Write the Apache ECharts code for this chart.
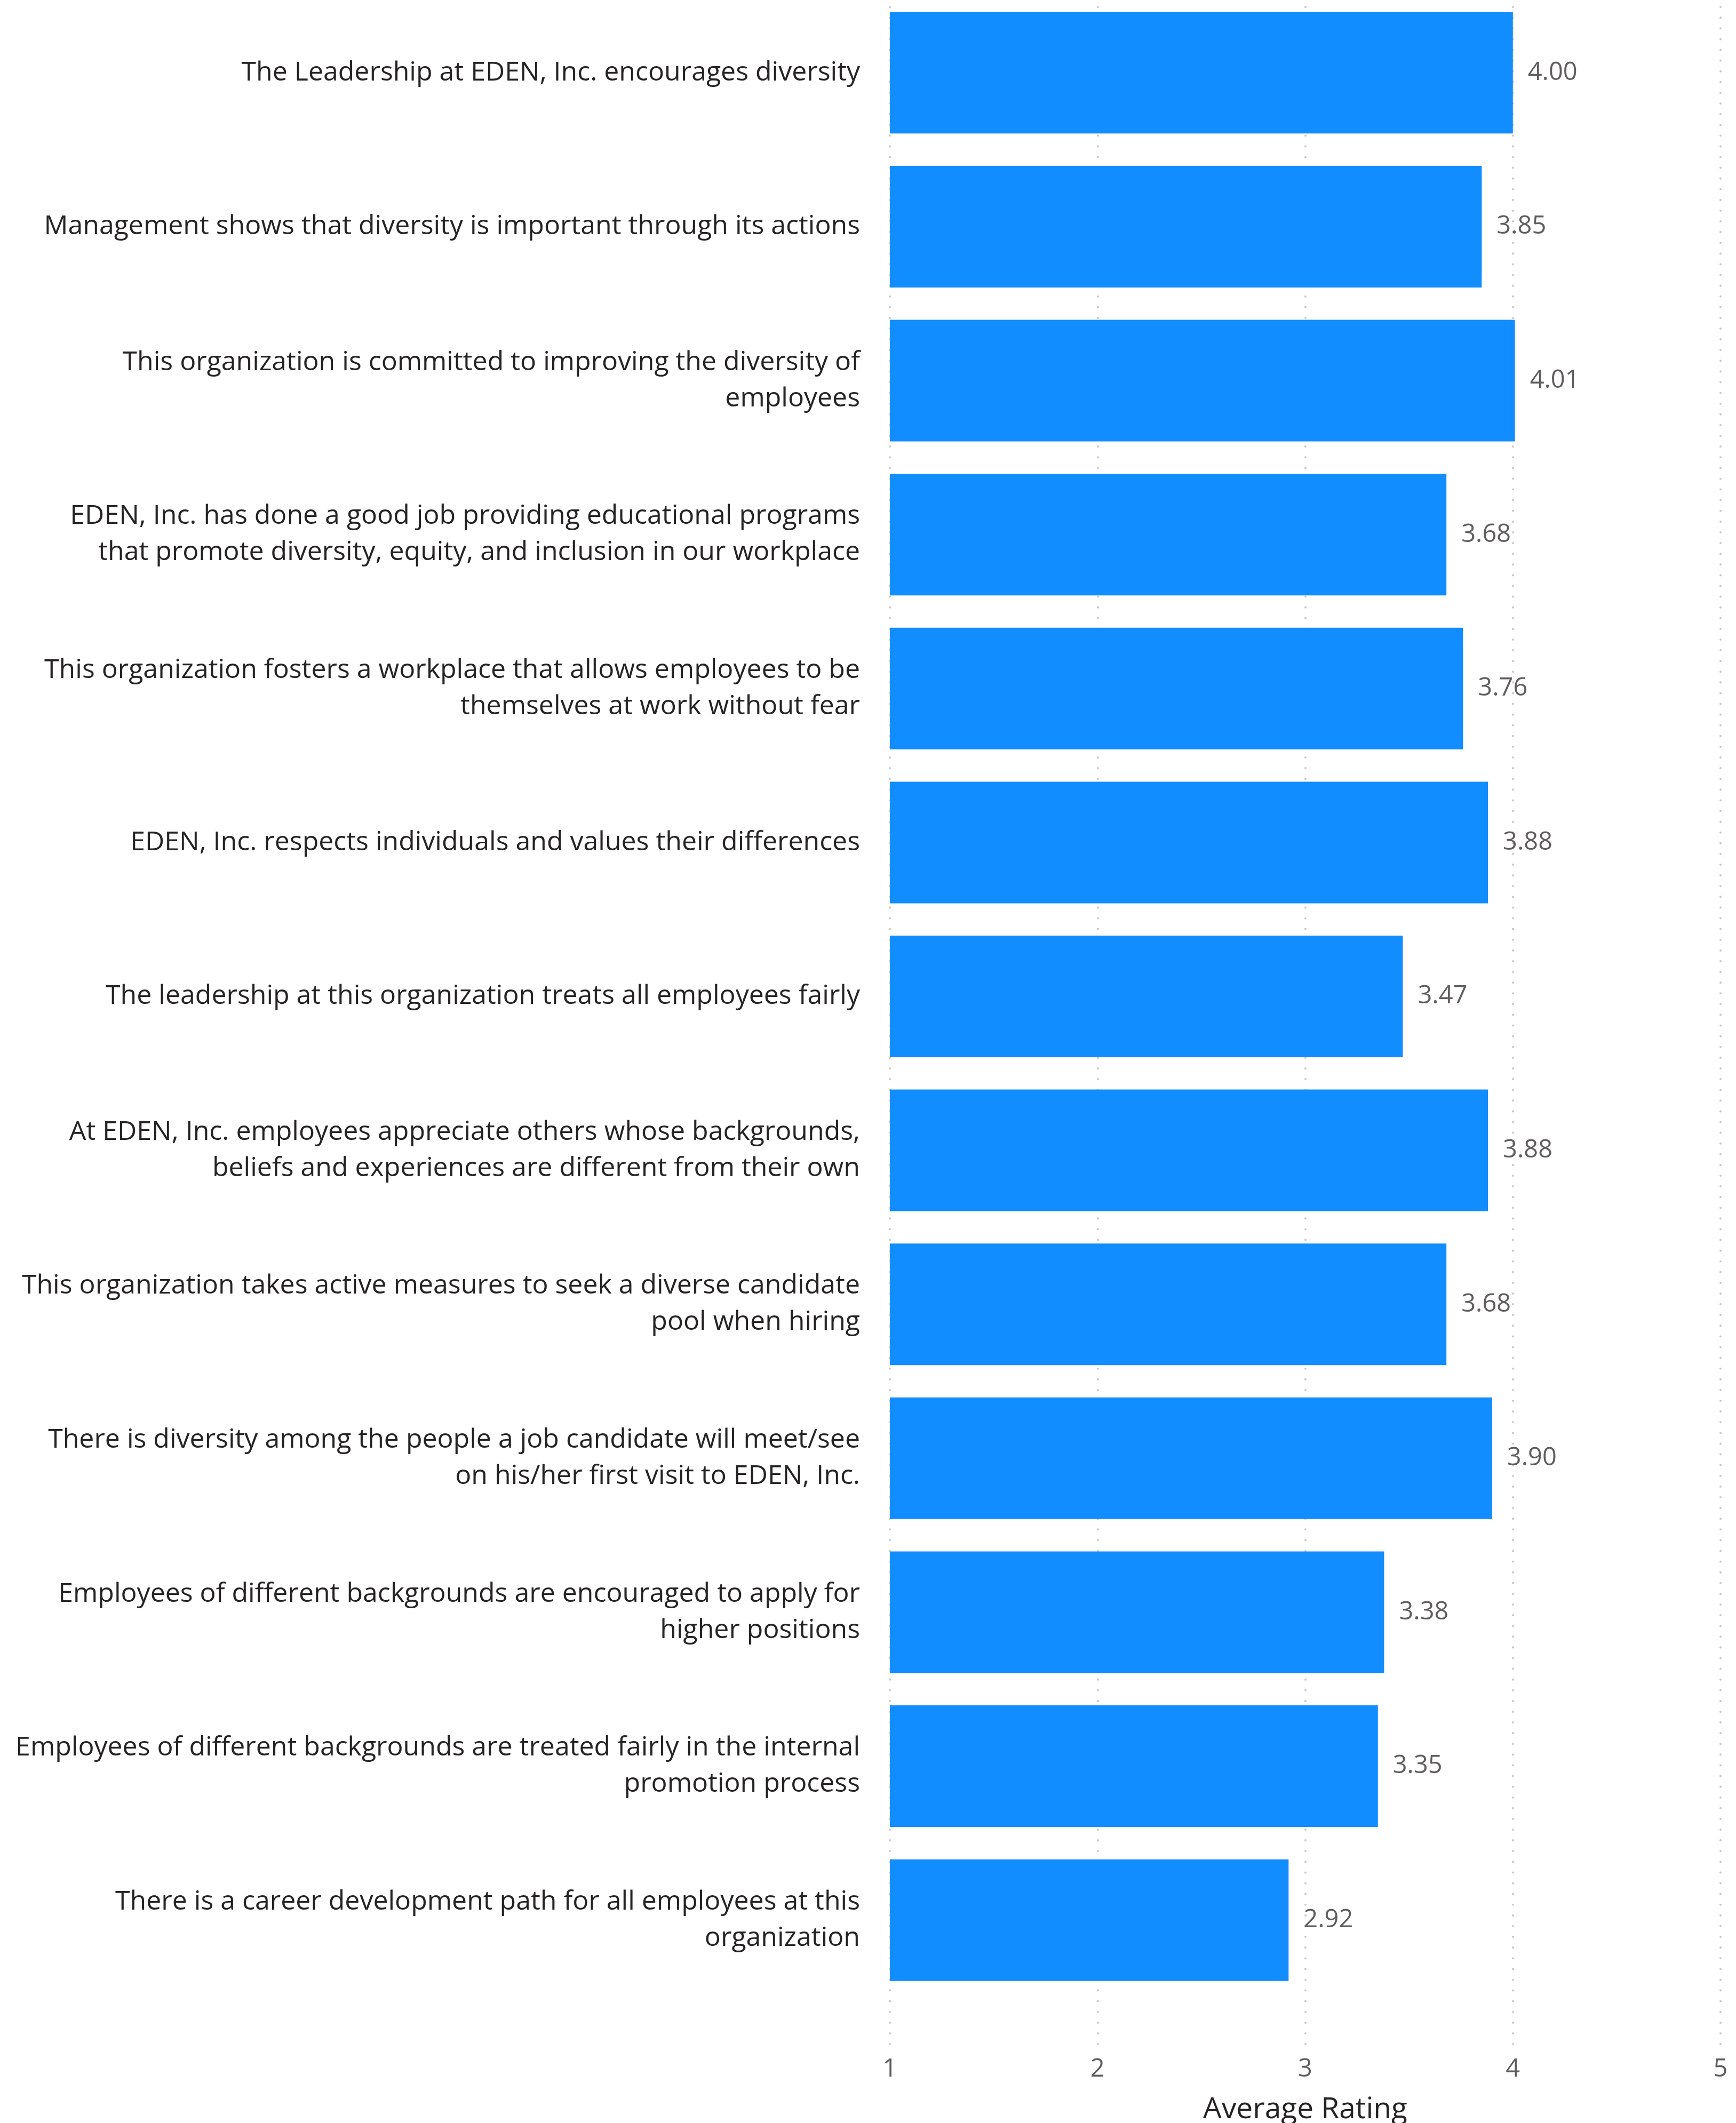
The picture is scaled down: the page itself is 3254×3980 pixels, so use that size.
<!DOCTYPE html>
<html>
<head>
<meta charset="utf-8">
<script src="https://cdn.jsdelivr.net/npm/echarts@6/dist/echarts.min.js"></script>
<style>
html,body{margin:0;padding:0;background:#fff;}
#chart{width:3254px;height:3980px;}
</style>
</head>
<body>
<div id="chart"></div>
<script>
const categories = [
  "The Leadership at EDEN, Inc. encourages diversity",
  "Management shows that diversity is important through its actions",
  "This organization is committed to improving the diversity of\nemployees",
  "EDEN, Inc. has done a good job providing educational programs\nthat promote diversity, equity, and inclusion in our workplace",
  "This organization fosters a workplace that allows employees to be\nthemselves at work without fear",
  "EDEN, Inc. respects individuals and values their differences",
  "The leadership at this organization treats all employees fairly",
  "At EDEN, Inc. employees appreciate others whose backgrounds,\nbeliefs and experiences are different from their own",
  "This organization takes active measures to seek a diverse candidate\npool when hiring",
  "There is diversity among the people a job candidate will meet/see\non his/her first visit to EDEN, Inc.",
  "Employees of different backgrounds are encouraged to apply for\nhigher positions",
  "Employees of different backgrounds are treated fairly in the internal\npromotion process",
  "There is a career development path for all employees at this\norganization"
];
const averageRating = [4.00, 3.85, 4.01, 3.68, 3.76, 3.88, 3.47, 3.88, 3.68, 3.90, 3.38, 3.35, 2.92];
const axisMin = 1, axisMax = 5, axisInterval = 1;
const axisTitle = "Average Rating";

const FONT = "'Open Sans', 'Noto Sans', sans-serif";
const chart = echarts.init(document.getElementById('chart'), null, {renderer: 'canvas'});
chart.setOption({
  animation: false,
  backgroundColor: '#ffffff',
  grid: [
    {left: 1668, right: 29, top: -8, bottom: 236, containLabel: false, outerBoundsMode: 'none'},
    {left: 1668, right: 29, top: 11, bottom: 144, containLabel: false, outerBoundsMode: 'none'}
  ],
  xAxis: [
    {type: 'value', gridIndex: 0, min: axisMin, max: axisMax, interval: axisInterval, show: false},
    {type: 'value', gridIndex: 1, min: axisMin, max: axisMax, interval: axisInterval,
      axisLine: {show: false}, axisTick: {show: false},
      splitLine: {show: true, lineStyle: {color: '#c8c8c8', width: 4, type: [0.1, 20], cap: 'round', dashOffset: -2}},
      axisLabel: {show: true, margin: 20, fontFamily: FONT, fontSize: 47, color: '#605e5c'},
      name: axisTitle, nameLocation: 'middle', nameGap: 92,
      nameTextStyle: {fontFamily: FONT, fontSize: 55, color: '#252423', fontWeight: 500}
    }
  ],
  yAxis: [
    {type: 'category', gridIndex: 0, data: categories, inverse: true,
      axisLine: {show: false}, axisTick: {show: false}, splitLine: {show: false},
      axisLabel: {show: true, margin: 56, fontFamily: FONT, fontSize: 50, lineHeight: 68, color: '#252423', align: 'right'}
    },
    {type: 'value', gridIndex: 1, show: false, min: 0, max: 1}
  ],
  series: [{
    type: 'bar',
    xAxisIndex: 0, yAxisIndex: 0,
    data: averageRating,
    barCategoryGap: '21%',
    itemStyle: {color: '#118DFF'},
    label: {show: true, position: 'right', distance: 28, fontFamily: FONT, fontSize: 47, color: '#605e5c',
      formatter: p => p.value.toFixed(2)}
  }]
});
</script>
</body>
</html>
